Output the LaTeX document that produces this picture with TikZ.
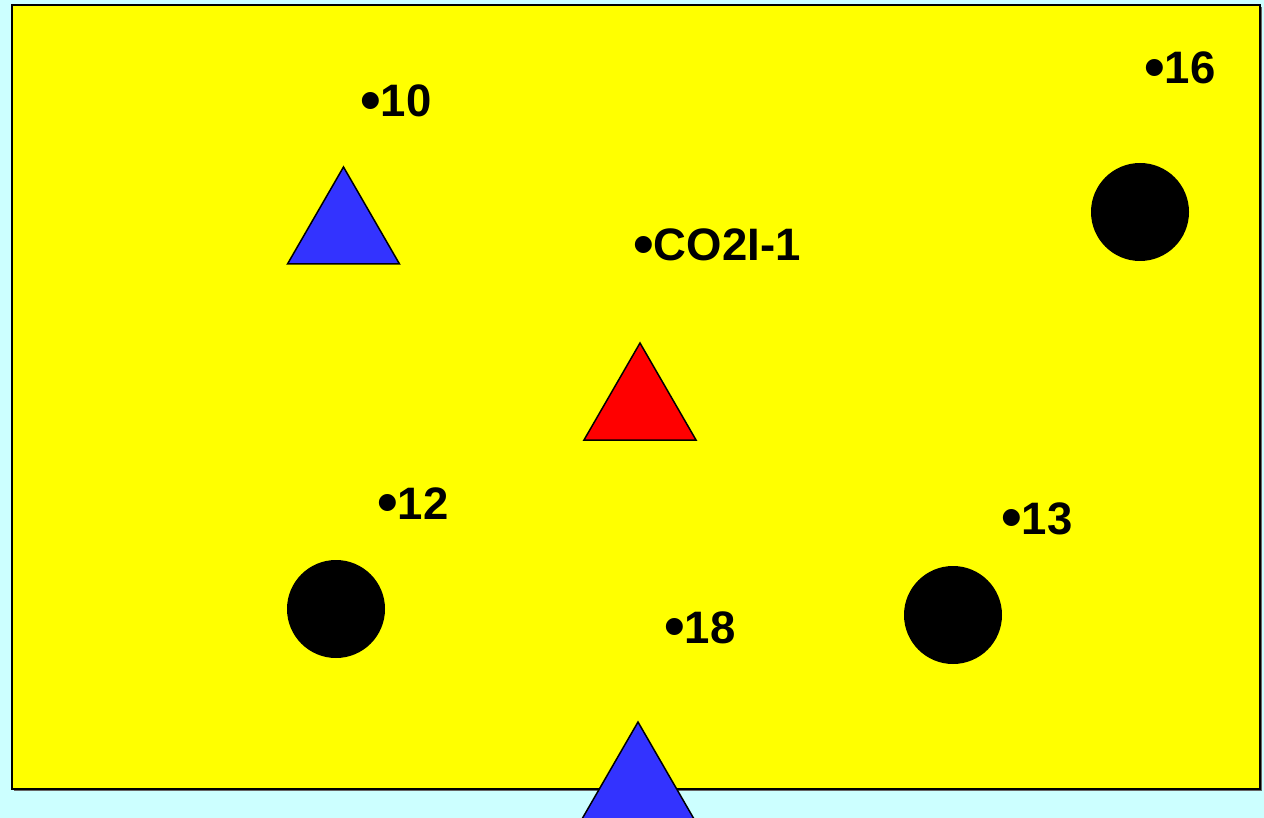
\documentclass[tikz,border=0pt]{standalone}
\usepackage{graphicx}
\usepackage{fontspec}
\setmainfont{Liberation Sans}
\newcommand{\bigdot}{\raisebox{-3.5pt}{\scalebox{1.3}{\textbullet}}}
\begin{document}
\begin{tikzpicture}[x=1pt,y=1pt,
  shape outline/.style={draw=black, line width=1.5pt, line join=miter},
  lbl/.style={anchor=base west, inner sep=0pt, font=\fontsize{45.5}{50}\selectfont\bfseries},
  dot/.style={fill=black}]
\definecolor{bgcyan}{HTML}{CCFFFF}
\definecolor{fieldyellow}{HTML}{FFFF00}
\definecolor{triblue}{HTML}{3333FF}
\definecolor{trired}{HTML}{FF0000}
\useasboundingbox (0,0) rectangle (1264,-818);
\fill[bgcyan] (0,0) rectangle (1264,-818);
% field
\fill[black!60] (14,-7) rectangle (1262,-791);
\filldraw[fill=fieldyellow, draw=black, line width=1.5pt] (12,-5) rectangle (1260,-789);
% triangles
\filldraw[shape outline, fill=triblue] (343.5,-167) -- (399.5,-264) -- (287.5,-264) -- cycle;
\filldraw[shape outline, fill=trired] (640,-343) -- (696,-440) -- (584,-440) -- cycle;
\filldraw[shape outline, fill=triblue] (638,-722) -- (694,-819) -- (582,-819) -- cycle;
% circles
\fill[dot] (1140,-212) circle (49);
\fill[dot] (336,-609) circle (49);
\fill[dot] (953,-615) circle (49);
% labels
\node[lbl] (l10) at (360,-117) {\bigdot10};
\node[lbl] (l16) at (1144,-84) {\bigdot16};
\node[lbl] (lco) at (633,-261) {\bigdot CO2I-1};
\node[lbl] (l12) at (377,-519) {\bigdot12};
\node[lbl] (l13) at (1001,-534) {\bigdot13};
\node[lbl] (l18) at (664,-643) {\bigdot18};
\end{tikzpicture}
\end{document}
